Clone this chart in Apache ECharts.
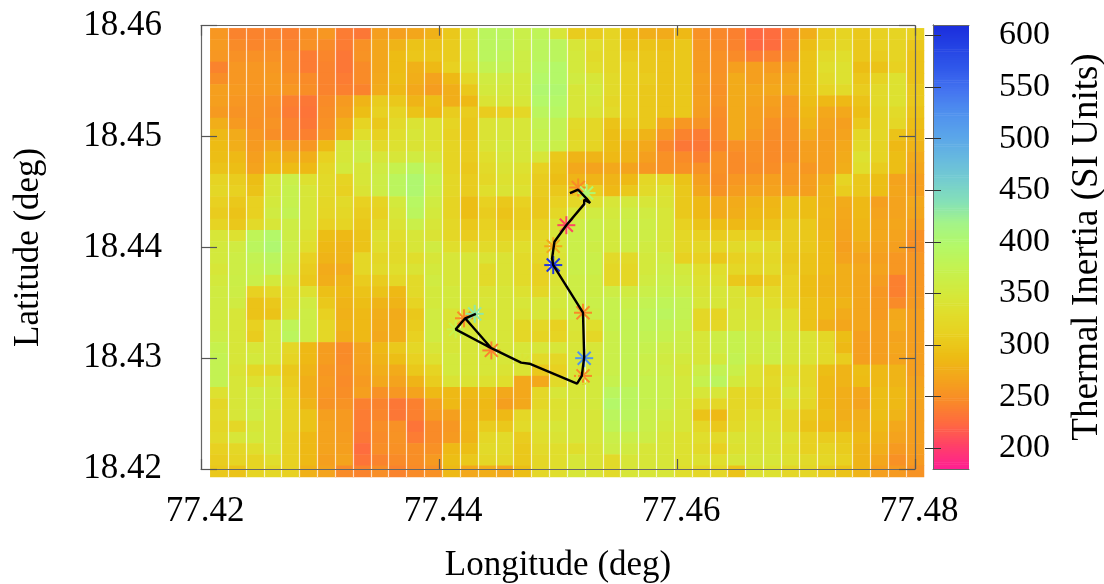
<!DOCTYPE html>
<html>
<head>
<meta charset="utf-8">
<title>Thermal inertia</title>
<script src="https://cdn.jsdelivr.net/npm/echarts@6/dist/echarts.min.js"></script>
<style>html,body{margin:0;padding:0;background:#fff}#main{width:1104px;height:584px}</style>
</head>
<body>
<div id="main"></div>
<script>
// thermal inertia grid, top row first
var tiRows = [
[255,240,240,240,238,248,255,235,232,262,262,268,278,300,345,385,385,365,380,345,305,305,315,290,275,272,285,250,243,238,222,225,240,275,305,315,300,310,315,310],
[258,245,242,245,240,250,245,235,250,268,280,295,295,305,345,385,385,365,385,385,345,330,320,295,295,290,300,255,245,240,222,225,242,290,310,320,300,310,315,300],
[255,250,250,250,245,235,242,232,252,268,288,298,298,305,345,385,380,360,385,385,350,325,320,305,300,295,300,258,250,245,235,240,248,295,325,330,300,305,315,295],
[240,255,255,255,245,235,240,232,245,268,288,278,285,310,340,375,375,360,390,395,350,330,320,310,300,295,300,258,250,262,262,258,262,295,330,335,290,295,310,295],
[248,255,255,258,250,245,240,235,245,270,290,275,265,285,320,355,355,350,395,395,355,345,325,310,305,295,300,262,252,272,262,265,270,295,325,335,298,315,335,295],
[262,258,255,258,255,248,240,238,240,272,285,270,260,275,300,350,350,350,400,400,345,350,325,310,300,295,300,260,250,272,268,270,272,295,315,325,305,325,335,300],
[262,255,252,250,238,232,245,258,280,305,300,280,290,275,285,340,345,345,395,395,345,345,320,310,300,295,300,262,252,272,265,262,255,290,285,285,295,325,335,300],
[258,252,252,248,235,230,248,262,290,310,315,295,285,305,305,305,310,320,385,390,345,340,325,310,300,295,300,260,248,272,262,258,255,285,270,270,290,320,325,295],
[275,258,250,252,240,232,250,275,315,300,325,340,335,315,300,340,345,345,375,375,325,320,295,305,300,270,255,252,245,272,262,250,250,280,265,262,300,318,320,290],
[285,272,255,248,240,238,255,282,330,310,330,345,335,310,300,340,345,345,370,375,320,320,290,295,280,255,240,235,245,272,258,248,250,272,262,265,320,320,295,285],
[288,275,258,268,260,255,285,345,355,325,335,340,335,315,305,340,350,345,370,365,325,315,290,280,270,242,232,232,240,250,250,245,248,262,262,270,325,315,285,280],
[290,285,262,280,275,275,310,345,360,345,345,355,345,315,305,330,345,345,345,300,280,280,285,280,262,250,245,238,250,245,250,245,248,262,262,272,335,315,290,272],
[295,290,265,285,288,285,320,350,345,355,370,385,360,315,300,325,340,335,310,295,270,265,270,265,255,250,250,250,250,245,248,248,255,255,262,275,330,305,290,268],
[315,305,290,345,365,335,325,315,345,360,385,400,370,320,305,320,335,330,305,290,280,280,280,285,320,320,295,262,248,255,258,262,255,262,275,315,300,290,265,262],
[320,310,295,345,370,345,325,310,340,360,385,400,365,320,305,330,340,335,305,300,300,305,285,300,325,335,300,268,252,260,265,265,262,262,280,305,300,290,268,262],
[310,300,310,350,370,345,320,325,310,315,350,390,355,315,290,310,300,310,300,310,320,335,345,350,345,340,300,285,272,272,280,282,295,290,280,272,285,262,265,270],
[305,295,310,355,375,345,318,320,305,310,345,385,350,315,290,305,295,305,300,320,345,355,350,360,355,345,300,285,272,275,285,285,295,290,282,270,285,265,265,268],
[315,300,325,345,360,345,310,315,300,320,340,365,345,320,300,310,300,305,310,340,360,365,355,365,360,345,310,295,290,285,290,295,305,300,280,268,282,268,268,262],
[345,335,380,395,360,335,290,285,295,335,330,345,340,320,305,315,315,320,320,345,365,365,350,360,360,345,320,310,305,310,310,305,305,300,282,265,280,270,265,250],
[350,355,385,400,365,330,285,280,295,330,325,345,355,330,325,325,325,330,325,345,365,360,350,360,355,345,320,320,320,325,330,325,305,300,285,262,272,265,262,250],
[350,360,375,385,360,310,280,280,320,320,325,330,345,345,345,340,340,325,320,340,365,365,325,325,350,355,310,310,300,310,315,320,300,295,285,265,265,262,255,255],
[345,360,370,380,355,305,272,272,320,325,330,340,350,345,345,325,340,325,310,340,365,365,320,320,350,360,350,330,330,320,320,325,305,295,285,275,270,265,255,255],
[350,362,365,350,345,300,275,280,305,305,320,325,355,345,345,325,340,325,310,340,360,360,320,320,355,365,355,335,335,300,295,305,310,290,280,275,268,260,238,255],
[355,360,310,320,335,335,292,285,295,295,285,325,350,350,345,340,345,335,320,345,360,360,360,355,365,370,365,340,345,340,320,325,310,290,280,275,268,255,238,255],
[355,355,295,300,335,355,300,280,290,280,280,315,350,350,345,345,345,345,345,350,360,365,370,365,375,380,375,345,345,340,340,330,315,295,285,280,268,258,245,258],
[355,345,295,295,340,360,310,278,285,275,272,300,355,340,340,340,345,340,345,345,360,360,370,370,380,385,375,320,315,345,340,340,330,295,285,272,268,258,270,262],
[355,345,310,345,380,360,320,280,285,272,275,305,355,340,340,345,345,320,320,310,345,330,370,375,380,375,370,320,320,345,345,345,335,295,275,268,268,262,272,262],
[360,345,305,345,385,360,320,275,285,270,275,310,355,345,345,345,345,320,315,315,340,320,365,375,375,370,360,345,360,370,355,355,345,340,320,290,262,262,265,262],
[370,345,345,345,320,285,260,245,265,285,300,320,345,345,345,345,345,345,345,345,345,345,365,375,370,360,360,345,360,370,355,360,345,340,325,285,262,262,268,262],
[375,345,350,345,315,285,260,245,265,280,290,310,335,350,345,345,345,345,325,320,345,345,365,375,365,355,350,345,350,375,350,360,345,340,325,305,262,262,265,262],
[375,340,320,320,300,280,255,248,262,275,272,300,315,350,345,345,340,340,300,310,345,345,365,375,365,360,345,360,375,365,335,320,330,320,290,280,290,285,280,262],
[375,345,335,345,305,275,258,245,258,270,265,280,305,340,340,335,330,270,270,325,345,350,370,375,370,365,350,370,385,350,335,325,335,320,285,280,288,285,280,265],
[335,345,355,350,310,275,255,248,262,250,255,265,285,285,285,290,270,270,320,345,345,350,385,385,370,365,350,345,345,320,320,320,345,325,285,275,268,290,285,268],
[320,345,355,350,315,280,252,252,238,240,232,238,262,285,280,285,262,270,320,335,345,350,395,385,370,365,345,325,320,320,320,320,335,320,285,275,265,290,285,265],
[325,345,360,345,315,295,262,258,235,242,232,238,258,262,280,285,285,320,330,335,345,345,385,385,365,355,345,295,285,320,330,330,320,300,290,275,275,290,280,262],
[320,320,345,345,315,295,265,258,235,248,250,230,245,255,282,305,300,325,335,345,345,345,380,380,365,350,345,320,300,325,335,335,320,295,285,280,278,285,270,262],
[325,345,350,345,310,285,265,260,232,245,252,235,245,258,280,320,325,305,330,340,345,345,365,365,360,345,335,330,325,340,340,340,335,310,305,300,285,280,265,262],
[310,320,330,345,310,285,265,262,225,248,250,248,250,285,290,325,325,300,325,330,330,340,360,355,345,345,335,325,310,335,340,340,330,310,315,305,280,275,258,260],
[305,315,315,330,310,285,262,265,230,240,245,248,258,290,300,320,320,300,320,330,345,340,325,345,345,345,335,335,330,345,345,345,335,325,320,310,280,268,250,258],
[300,295,315,320,310,278,265,245,240,248,240,245,250,285,270,275,270,290,320,330,345,340,325,345,345,345,330,320,320,295,335,335,320,320,305,295,280,262,258,252]
];

// black track
var trackLon = [77.4510,77.4517,77.4524,77.4527,77.4522,77.4522,77.4507,77.4497,77.4495,77.4496,77.4521,77.4522,77.4520,77.4516,77.4476,77.4469,77.4444,77.4414,77.4422,77.4444,77.4422,77.4431];
var trackLat = [18.4449,18.4452,18.4444,18.4440,18.4443,18.4439,18.4420,18.4405,18.4390,18.4384,18.4341,18.4301,18.4284,18.4277,18.4295,18.4296,18.4309,18.4326,18.4336,18.4309,18.4336,18.4340];

// asterisks, coloured by their thermal inertia
var starLon = [77.4517,77.4524,77.4507,77.4496,77.4496,77.4521,77.4522,77.4521,77.4516,77.4470,77.4444,77.4421,77.4430,77.4414];
var starLat = [18.4454,18.4449,18.4420,18.4401,18.4384,18.4341,18.4300,18.4284,18.4277,18.4296,18.4307,18.4336,18.4340,18.4326];
var starTi = [245,400,205,270,600,245,520,245,345,340,238,245,430,370];

var lonTicks = [77.42,77.44,77.46,77.48];
var latTicks = [18.42,18.43,18.44,18.45,18.46];
var tiTicks = [200,250,300,350,400,450,500,550,600];
var tiMin = 180;
var tiMax = 610;

// colour bar stops, evenly spaced from tiMin to tiMax
var palette = ['#ff2090','#ff4068','#ff6a40','#f98a28','#f4a41c','#edbc14','#e8d020','#e0de2c','#d2ea3e','#c4f250','#b4f868','#a4f488','#84e0b8','#74ccd0','#66b8e0','#5aa4ea','#4f90ee','#4474f0','#3058ea','#2442e4','#1a2cdc'];

var serif = '"Liberation Serif"';
var frameColor = '#666';

var cells = [];
tiRows.forEach(function (row, j) {
    row.forEach(function (v, i) { cells.push([i, j, v]); });
});
var colNames = tiRows[0].map(function (v, i) { return i; });
var rowNames = tiRows.map(function (v, j) { return j; });

var track = trackLon.map(function (v, i) { return [v, trackLat[i]]; });
var stars = starLon.map(function (v, i) { return [v, starLat[i], starTi[i]]; });

// colour bar slices, one every 2 units
var barSlices = [];
for (var t = tiMin; t < tiMax; t += 2) {
    barSlices.push([0, t, t]);
}

function frameAxis(position, ticks, range, tickLen, labels, extra, labelExtra) {
    var axis = {
        type: 'value',
        position: position,
        min: range[0],
        max: range[1],
        z: 6,
        axisLine: { show: true, onZero: false, lineStyle: { color: frameColor, width: 1.2 } },
        axisTick: { show: true, inside: true, length: tickLen, customValues: ticks, lineStyle: { color: '#555', width: 1.2 } },
        axisLabel: Object.assign({ show: labels, customValues: ticks, color: '#000', fontFamily: serif, fontSize: 35,
            formatter: function (v) { return v.toFixed(2); } }, labelExtra || {}),
        splitLine: { show: false }
    };
    return Object.assign(axis, extra || {});
}

// one asterisk, arms in px around the projected point
function renderStar(params, api) {
    var c = api.coord([api.value(0), api.value(1)]);
    var style = { stroke: api.visual('color'), lineWidth: 2, fill: null };
    var arms = [[0, -9], [9, 0], [6.5, -6.5], [6.5, 6.5]];
    return {
        type: 'group',
        children: arms.map(function (a) {
            return { type: 'line', shape: { x1: c[0] - a[0], y1: c[1] - a[1], x2: c[0] + a[0], y2: c[1] + a[1] }, style: style };
        })
    };
}

function renderBarSlice(params, api) {
    var p0 = api.coord([0, api.value(1)]);
    var p1 = api.coord([1, api.value(1) + 2.6]);
    return {
        type: 'rect',
        shape: { x: p0[0], y: p1[1], width: p1[0] - p0[0], height: p0[1] - p1[1] },
        style: { fill: api.visual('color') }
    };
}

var myChart = echarts.init(document.getElementById('main'));
myChart.setOption({
    animation: false,
    backgroundColor: '#fff',
    textStyle: { fontFamily: serif },
    grid: [
        { left: 210.3, top: 28.3, width: 713.7, height: 448.7, outerBoundsMode: 'none' },
        { left: 201, top: 25.7, width: 714, height: 443.3, outerBoundsMode: 'none' },
        { left: 933, top: 25, width: 36, height: 444, outerBoundsMode: 'none' }
    ],
    xAxis: [
        { type: 'category', gridIndex: 0, data: colNames, z: 3, axisLine: { show: false }, axisTick: { show: false }, axisLabel: { show: false },
            splitLine: { show: true, interval: 0, showMinLine: false, showMaxLine: false, lineStyle: { color: 'rgba(255,255,255,0.72)', width: 1.2 } } },
        frameAxis('bottom', lonTicks, [77.42, 77.48], 10, true, { gridIndex: 1, name: 'Longitude (deg)', nameLocation: 'middle', nameGap: 79,
            nameTextStyle: { color: '#000', fontFamily: serif, fontSize: 35 } }, { margin: 25, padding: [0, 0, 0, 8] }),
        frameAxis('top', lonTicks, [77.42, 77.48], 10, false, { gridIndex: 1 }),
        { type: 'value', gridIndex: 2, min: 0, max: 1, position: 'bottom', z: 6, axisLine: { show: true, lineStyle: { color: frameColor } }, axisTick: { show: false }, axisLabel: { show: false }, splitLine: { show: false } },
        { type: 'value', gridIndex: 2, min: 0, max: 1, position: 'top', z: 6, axisLine: { show: true, lineStyle: { color: frameColor } }, axisTick: { show: false }, axisLabel: { show: false }, splitLine: { show: false } }
    ],
    yAxis: [
        { type: 'category', gridIndex: 0, data: rowNames, inverse: true, axisLine: { show: false }, axisTick: { show: false }, axisLabel: { show: false }, splitLine: { show: false } },
        frameAxis('left', latTicks, [18.42, 18.46], 16, true, { gridIndex: 1, name: 'Latitude (deg)', nameLocation: 'middle', nameGap: 155,
            nameTextStyle: { color: '#000', fontFamily: serif, fontSize: 35 } }, { margin: 39, padding: [7, 0, 0, 0] }),
        frameAxis('right', latTicks, [18.42, 18.46], 16, false, { gridIndex: 1 }),
        { type: 'value', gridIndex: 2, position: 'left', min: tiMin, max: tiMax, z: 6,
            axisLine: { show: true, lineStyle: { color: frameColor } },
            axisTick: { show: true, inside: true, length: 8, customValues: tiTicks, lineStyle: { color: '#333' } },
            axisLabel: { show: false }, splitLine: { show: false } },
        { type: 'value', gridIndex: 2, position: 'right', min: tiMin, max: tiMax, z: 6,
            name: 'Thermal Inertia (SI Units)', nameLocation: 'middle', nameGap: 100, nameRotate: 90,
            nameTextStyle: { color: '#000', fontFamily: serif, fontSize: 37 },
            axisLine: { show: true, lineStyle: { color: frameColor } },
            axisTick: { show: true, inside: true, length: 8, customValues: tiTicks, lineStyle: { color: '#333' } },
            axisLabel: { show: true, customValues: tiTicks, color: '#000', fontFamily: serif, fontSize: 34, margin: 30, padding: [6, 0, 0, 0] },
            splitLine: { show: false } }
    ],
    visualMap: {
        type: 'continuous',
        show: false,
        min: tiMin,
        max: tiMax,
        dimension: 2,
        seriesIndex: [0, 1, 3],
        inRange: { color: palette }
    },
    series: [
        { type: 'heatmap', xAxisIndex: 0, yAxisIndex: 0, data: cells, z: 2, progressive: 0, emphasis: { disabled: true } },
        { type: 'custom', xAxisIndex: 1, yAxisIndex: 1, data: stars, encode: { x: 0, y: 1 }, renderItem: renderStar, z: 4, clip: false },
        { type: 'line', xAxisIndex: 1, yAxisIndex: 1, data: track, showSymbol: false, symbol: 'none', z: 5,
            lineStyle: { color: '#000', width: 2.4 } },
        { type: 'custom', xAxisIndex: 3, yAxisIndex: 3, data: barSlices, encode: { x: 0, y: 1 }, renderItem: renderBarSlice, z: 2, clip: true }
    ]
});
</script>
</body>
</html>
